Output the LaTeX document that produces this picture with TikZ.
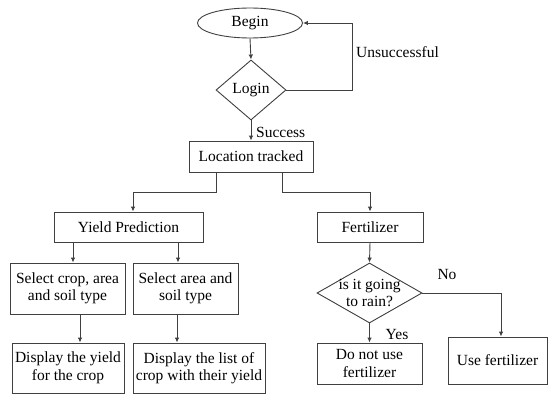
\documentclass[tikz,border=0pt]{standalone}
\usepackage{fontspec}
\setmainfont{LiberationSerif}[Extension=.ttf, UprightFont=*-Regular, BoldFont=*-Bold, ItalicFont=*-Italic, BoldItalicFont=*-BoldItalic]
\usetikzlibrary{shapes.geometric,arrows.meta}
\begin{document}
\begin{tikzpicture}[x=1pt,y=-1pt,
  every node/.style={font=\rmfamily\fontsize{15.5}{17.5}\selectfont, text=black},
  box/.style={draw=black!75, line width=0.9pt, rectangle, inner sep=0pt, align=center},
  dia/.style={draw=black!75, line width=0.9pt, diamond, inner sep=0pt},
  oval/.style={draw=black!75, line width=0.9pt, ellipse, inner sep=0pt},
  arr/.style={draw=black!75, line width=0.9pt, -{Latex[length=5pt,width=4.5pt]}},
  lab/.style={inner sep=1pt, align=center}]
\useasboundingbox[fill=white] (0,0) rectangle (548,393);
% nodes
\node[oval, minimum width=105pt, minimum height=30pt] (begin) at (250,23) {Begin};
\node[dia, minimum width=70pt, minimum height=60pt] (login) at (251,90) {};
\node[lab] (logintxt) at (login.center) {Login};
\node[box, minimum width=124pt, minimum height=31pt] (loc) at (251,156.5) {Location tracked};
\node[box, minimum width=149pt, minimum height=30pt] (yp) at (128.5,227) {Yield Prediction};
\node[box, minimum width=106pt, minimum height=30pt] (fert) at (370,227) {Fertilizer};
\node[box, minimum width=115pt, minimum height=51pt] (sc) at (67.5,288.5) {Select crop, area\\and soil type};
\node[box, minimum width=105pt, minimum height=51pt] (sa) at (185.5,288.5) {Select area and\\soil type};
\node[box, minimum width=112pt, minimum height=50pt] (dy) at (68,368) {Display the yield\\for the crop};
\node[box, minimum width=132pt, minimum height=50pt] (dl) at (199,368) {Display the list of\\crop with their yield};
\node[dia, minimum width=105pt, minimum height=60pt] (rain) at (369.5,293) {};
\node[lab] (raintxt) at (rain.center) {is it going\\to rain?};
\node[box, minimum width=105pt, minimum height=41pt] (dn) at (369.5,363.5) {Do not use\\fertilizer};
\node[box, minimum width=99pt, minimum height=47pt] (uf) at (497.5,360.5) {Use fertilizer};
% helper coordinates
\coordinate (loopx) at (352,0);
\coordinate (xa) at (73,0);
\coordinate (xb) at (178,0);
\coordinate (xc) at (80,0);
\coordinate (xd) at (177,0);
\coordinate (xe) at (501,0);
\coordinate (xyp) at (133,0);
% connectors
\draw[arr] (begin.south) -- (login.north);
\draw[arr] (login.east) -| (loopx |- begin.east) -- (begin.east);
\node[lab, anchor=west] (unsucc) at (355,52) {Unsuccessful};
\draw[arr] (login.south) -- (loc.north);
\node[lab, anchor=west] (succ) at (255,132) {Success};
\draw[arr] ([xshift=-35pt]loc.south) -- ++(0,20) -| (xyp |- yp.north);
\draw[arr] ([xshift=31pt]loc.south) -- ++(0,20) -| (fert.north);
\draw[arr] (xa |- yp.south) -- (xa |- sc.north);
\draw[arr] (xb |- yp.south) -- (xb |- sa.north);
\draw[arr] (xc |- sc.south) -- (xc |- dy.north);
\draw[arr] (xd |- sa.south) -- (xd |- dl.north);
\draw[arr] (fert.south) -- (rain.north);
\draw[arr] (rain.south) -- (dn.north);
\node[lab] (yes) at (397,334) {Yes};
\draw[arr] (rain.east) -| (xe |- uf.north);
\node[lab] (no) at (447,274) {No};
\end{tikzpicture}
\end{document}
